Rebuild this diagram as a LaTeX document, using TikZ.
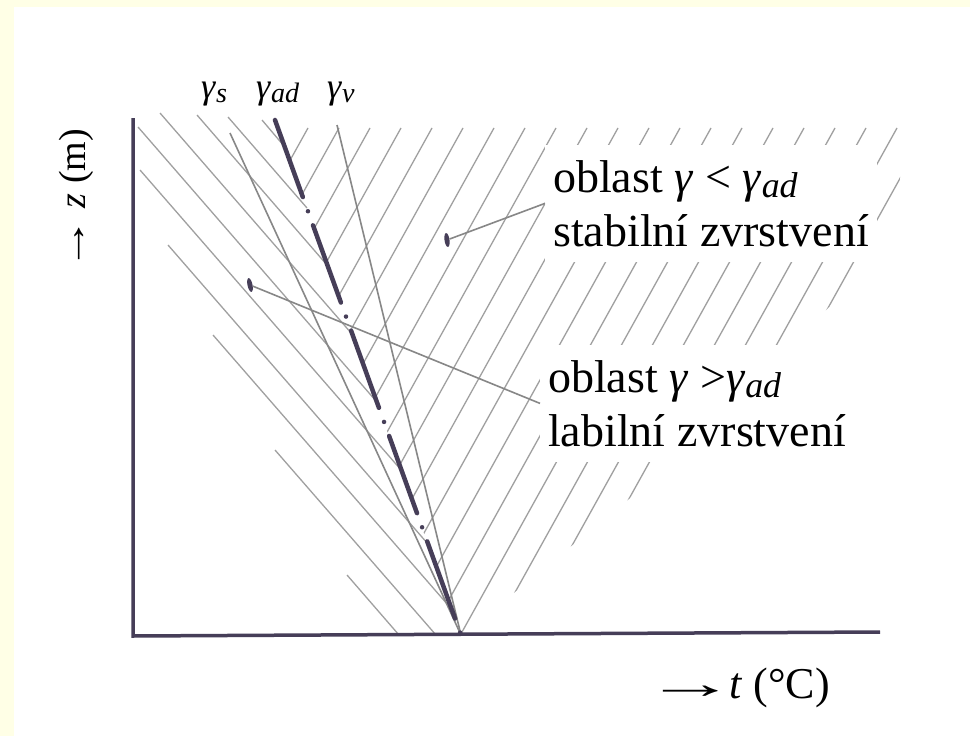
\documentclass[tikz,border=0pt]{standalone}
\usepackage{fontspec}
\setmainfont{Liberation Serif}
\usetikzlibrary{shapes.geometric}
\definecolor{axcol}{RGB}{70,62,88}
\definecolor{hatchcol}{RGB}{160,160,160}
\definecolor{linecol}{RGB}{135,135,135}
\definecolor{bgyellow}{RGB}{255,255,230}
\newcommand{\gsb}[1]{\textit{γ}\raisebox{-0.12em}{\scalebox{0.78}{\textit{#1}}}}
\newcommand{\arr}[1]{\scalebox{#1}[1]{→}}

\begin{document}
\begin{tikzpicture}[x=1pt, y=-1pt,
  hatch/.style={draw=hatchcol, line width=1.3pt},
  gline/.style={draw=linecol, line width=1.6pt},
  adline/.style={draw=axcol, line width=4.5pt, line cap=round, dash pattern=on 82pt off 15pt on 0pt off 15pt},
  axis/.style={draw=axcol, line width=3.5pt},
  lead/.style={draw=linecol, line width=1.6pt},
  blob/.style={ellipse, fill=axcol, minimum width=5pt, minimum height=14pt, inner sep=0pt},
  lab/.style={fill=white, align=left, inner xsep=8pt, inner ysep=15pt, font=\fontsize{46}{54}\selectfont},
  glab/.style={inner sep=0pt, anchor=base west, font=\fontsize{36}{40}\selectfont}
]
\fill[bgyellow] (0,0) rectangle (970,736);
\fill[white] (14,7) rectangle (970,736);
\useasboundingbox (0,0) rectangle (970,736);

% labile side
\foreach \xa/\ya/\xb/\yb in {262/120/284/146, 228/117/307/208, 197/115/327/265, 160/113/352/334,
    138/127/376/401, 140/170/402/471, 168/245/428/544, 213/335/448/605, 275/450/436/635, 347/575/399/635}
  \draw[hatch] (\xa,\ya) -- (\xb,\yb);

% stable side
\begin{scope}
  \clip (277,126) -- (461,636) -- (640,490) -- (855,282) -- (900,240) -- (900,126) -- cycle;
  \foreach \k in {0,...,20}
    \draw[hatch] ({308+31*\k},128) -- ++({-520/1.8},520);
\end{scope}

\node[lab, anchor=north west] (stab) at (545,145) {oblast \textit{γ} < \gsb{ad}\\stabilní zvrstvení};
\node[lab, anchor=north west] (labil) at (540,345) {oblast \textit{γ} >\gsb{ad}\\labilní zvrstvení};

\coordinate (o) at (461,635);
\coordinate (stop) at (230,133);
\coordinate (adtop) at (275,120);
\coordinate (vtop) at (337,125);
\draw[gline] (stop) -- (o);
\draw[gline] (vtop) -- (o);
\draw[adline] (adtop) -- (o);

\coordinate (org) at (133,636);
\draw[axis] (133,118) -- (org) -- (880,632);

\node[blob, rotate=8] (d1) at (447,240) {};
\node[blob, rotate=12] (d2) at (250,285) {};
\draw[lead] (d1) -- (stab.west);
\draw[lead] (d2) -- (labil.west);

\node[glab] (gs) at (201,98) {\gsb{s}};
\node[glab] (gad) at (256,98) {\gsb{ad}};
\node[glab] (gv) at (327,98) {\gsb{v}};

\node[inner sep=0pt, anchor=base east, font=\fontsize{44}{50}\selectfont] (tlab) at (830,698) {\arr{2.1}\hspace{-18pt} \textit{t} (°C)};
\node[inner sep=0pt, rotate=90, font=\fontsize{38}{42}\selectfont] (zlab) at (76,200) {\arr{1.4} \textit{z} (m)};
\end{tikzpicture}
\end{document}
